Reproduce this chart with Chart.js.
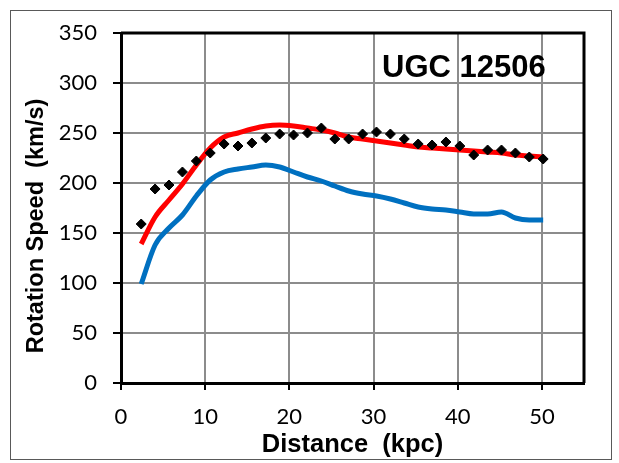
<!DOCTYPE html>
<html>
<head>
<meta charset="utf-8">
<script src="https://cdn.jsdelivr.net/npm/chart.js@4/dist/chart.umd.min.js"></script>
<style>
  html, body { margin: 0; padding: 0; background: #fff; }
  #wrap { position: relative; width: 619px; height: 463px; }
  #frame { position: absolute; left: 10px; top: 10px; width: 602px; height: 450px; border: 1px solid #595959; box-sizing: border-box; pointer-events: none; }
  canvas { position: absolute; left: 0; top: 0; }
</style>
</head>
<body>
<div id="wrap">
  <canvas id="rotationCurve" width="619" height="463"></canvas>
  <div id="frame"></div>
</div>
<script>
// galaxy name
var galaxyName = 'UGC 12506';

// radius (kpc) of each sample
var radius = [2.4, 4.05, 5.7, 7.3, 8.95, 10.6, 12.25, 13.9, 15.55, 17.2,
  18.85, 20.5, 22.15, 23.8, 25.4, 27.05, 28.7, 30.35, 32.0, 33.65,
  35.3, 36.95, 38.6, 40.25, 41.9, 43.55, 45.2, 46.85, 48.5, 50.15];

// observed rotation speed (black diamonds)
var observed = [159, 194, 198, 211, 222, 230, 239, 237, 240, 245,
  249, 248, 250, 255, 244, 244, 249, 251, 249, 244,
  239, 238, 241, 237, 228, 233, 233, 230, 226, 224];

// model curve (red)
var modelTotal = [139, 166, 183, 199, 218, 235, 246, 250, 254, 257,
  258, 257, 255, 253, 250, 246, 244, 242, 240, 238,
  236, 235, 234, 233, 232, 231, 230, 228, 227, 226];

// baryonic / newtonian curve (blue)
var modelBase = [99, 138, 155, 168, 187, 203, 211, 214, 216, 218,
  216, 211, 206, 202, 197, 192, 189, 187, 184, 180,
  176, 174, 173, 171, 169, 169, 171, 165, 163, 163];

// axis ticks
var xTicks = [0, 10, 20, 30, 40, 50];
var yTicks = [0, 50, 100, 150, 200, 250, 300, 350];

function toPoints(xs, ys) {
  var pts = [];
  for (var i = 0; i < xs.length; i++) {
    pts.push({ x: xs[i], y: ys[i] });
  }
  return pts;
}

// border on top/right of the plot + texts inside
var plotDecor = {
  id: 'plotDecor',
  afterDraw: function (chart) {
    var ctx = chart.ctx;
    var a = chart.chartArea;
    ctx.save();
    ctx.strokeStyle = '#000';
    ctx.lineWidth = 3;
    ctx.beginPath();
    ctx.moveTo(a.left, a.top);
    ctx.lineTo(a.right, a.top);
    ctx.lineTo(a.right, a.bottom);
    ctx.stroke();

    ctx.fillStyle = '#000';
    ctx.font = 'bold 31px "Liberation Sans", Arial, sans-serif';
    ctx.textBaseline = 'alphabetic';
    ctx.textAlign = 'left';
    ctx.fillText(galaxyName, 382, 77);

    ctx.translate(37, 226);
    ctx.rotate(-Math.PI / 2);
    ctx.textAlign = 'center';
    ctx.textBaseline = 'middle';
    ctx.font = 'bold 23.5px "Liberation Sans", Arial, sans-serif';
    ctx.fillText('Rotation Speed  (km/s)', 0, 0);
    ctx.restore();
  }
};

var ctx = document.getElementById('rotationCurve');
var myChart = new Chart(ctx, {
  type: 'scatter',
  data: {
    datasets: [
      {
        label: 'Observed',
        data: toPoints(radius, observed),
        showLine: false,
        pointStyle: 'rectRot',
        pointRadius: 5,
        pointBackgroundColor: '#000',
        pointBorderColor: '#000',
        pointBorderWidth: 1,
        order: 0
      },
      {
        label: 'Model',
        data: toPoints(radius, modelTotal),
        showLine: true,
        borderColor: '#ff0000',
        borderWidth: 5,
        pointRadius: 0,
        tension: 0.4,
        cubicInterpolationMode: 'monotone',
        order: 1
      },
      {
        label: 'Baryons',
        data: toPoints(radius, modelBase),
        showLine: true,
        borderColor: '#0070c0',
        borderWidth: 5,
        pointRadius: 0,
        tension: 0.4,
        cubicInterpolationMode: 'monotone',
        order: 2
      }
    ]
  },
  options: {
    responsive: false,
    animation: false,
    events: [],
    layout: { padding: { top: 33, right: 35, left: 0, bottom: 0 } },
    plugins: {
      legend: { display: false },
      tooltip: { enabled: false }
    },
    scales: {
      x: {
        type: 'linear',
        min: 0,
        max: 55,
        afterFit: function (scale) { scale.height = 80; },
        afterBuildTicks: function (scale) {
          scale.ticks = xTicks.map(function (v) { return { value: v }; });
        },
        ticks: {
          color: '#000',
          font: { family: 'Lato', size: 22 },
          padding: 14
        },
        grid: {
          color: '#8c8c8c',
          lineWidth: 2,
          tickColor: '#000',
          tickLength: 7,
          tickWidth: 2
        },
        border: { color: '#000', width: 3 },
        title: {
          display: true,
          text: 'Distance  (kpc)',
          color: '#000',
          font: { family: 'Liberation Sans', size: 25.5, weight: 'bold' },
          padding: { top: 0, bottom: 3 }
        }
      },
      y: {
        type: 'linear',
        min: 0,
        max: 350,
        afterFit: function (scale) { scale.width = 121; },
        afterBuildTicks: function (scale) {
          scale.ticks = yTicks.map(function (v) { return { value: v }; });
        },
        ticks: {
          color: '#000',
          font: { family: 'Lato', size: 22 },
          padding: 16
        },
        grid: {
          color: '#8c8c8c',
          lineWidth: 2,
          tickColor: '#000',
          tickLength: 8,
          tickWidth: 2
        },
        border: { color: '#000', width: 3 }
      }
    }
  },
  plugins: [plotDecor]
});
</script>
</body>
</html>
